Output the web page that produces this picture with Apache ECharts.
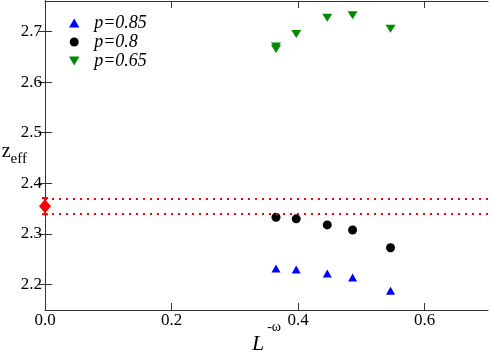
<!DOCTYPE html>
<html><head><meta charset="utf-8">
<script src="https://cdn.jsdelivr.net/npm/echarts@6/dist/echarts.min.js"></script>
<style>html,body{margin:0;padding:0;background:#fff}#c{width:491px;height:352px}</style>
</head><body><div id="c"></div>
<script>
const xVals = [0.365, 0.397, 0.446, 0.486, 0.546];
const yP085 = [2.232, 2.230, 2.222, 2.214, 2.188];
const yP080 = [2.333, 2.330, 2.318, 2.308, 2.273];
const xP065 = [0.365, 0.365, 0.397, 0.446, 0.486, 0.546];
const yP065 = [2.665, 2.670, 2.695, 2.727, 2.732, 2.705];
const estX = 0.0;
const estY = 2.355;
const estLo = 2.339;
const estHi = 2.371;
const xTicks = [0, 0.2, 0.4, 0.6];
const yTicks = [2.2, 2.3, 2.4, 2.5, 2.6, 2.7];
const names = ['p=0.85', 'p=0.8', 'p=0.65'];

const font = 'Liberation Serif';
const downTri = 'path://M0,0 L10,0 L5,8.66 Z';
const upTri = 'path://M5,0 L10,8.66 L0,8.66 Z';
const axisLine = {show: true, lineStyle: {color: '#333', width: 1}};
const tickRich = {t: {fontFamily: font, fontSize: 17, color: '#000'}};
function xAxisDef(pos, labels) {
  return {type: 'value', position: pos, min: 0, max: 0.7,
    axisLine: axisLine, splitLine: {show: false},
    axisTick: {show: true, inside: true, length: 7, customValues: xTicks, lineStyle: {color: '#333'}},
    axisLabel: {show: labels, customValues: xTicks, formatter: v => '{t|' + v.toFixed(1) + '}',
      rich: tickRich, fontFamily: font, fontSize: 17, color: '#000', margin: 2}
  };
}
function yAxisDef(pos, labels) {
  return {type: 'value', position: pos, min: 2.15, max: 2.76,
    axisLine: axisLine, splitLine: {show: false},
    axisTick: {show: true, inside: true, length: 7, customValues: yTicks, lineStyle: {color: '#333'}},
    axisLabel: {show: labels, customValues: yTicks, formatter: v => '{t|' + v.toFixed(1) + '}',
      rich: tickRich, fontFamily: font, fontSize: 17, color: '#000', margin: 3}
  };
}
const xa0 = xAxisDef('bottom', true);
xa0.name = '{l|L}{s|-ω}';
xa0.nameLocation = 'middle';
xa0.nameGap = 10;
xa0.nameMoveOverlap = false;
xa0.nameTextStyle = {verticalAlign: 'top', rich: {
  l: {fontFamily: font, fontStyle: 'italic', fontSize: 22, color: '#000', verticalAlign: 'bottom'},
  s: {fontFamily: font, fontSize: 14, color: '#000', verticalAlign: 'top', padding: [0, 0, 21, 3]}
}};
const ya0 = yAxisDef('left', true);
ya0.name = '{z|z}{s|eff}';
ya0.nameLocation = 'middle';
ya0.nameRotate = 0;
ya0.nameGap = 18;
ya0.nameMoveOverlap = false;
ya0.nameTextStyle = {rich: {
  z: {fontFamily: font, fontSize: 20, color: '#000', padding: [0, 0, 8, 0]},
  s: {fontFamily: font, fontSize: 15, color: '#000', padding: [8, 0, 0, 0]}
}};

const chart = echarts.init(document.getElementById('c'), null, {renderer: 'canvas'});
chart.setOption({
  animation: false,
  backgroundColor: '#fff',
  textStyle: {fontFamily: font},
  grid: {left: 45, right: 3, top: 1, bottom: 42, containLabel: false, outerBoundsMode: 'none'},
  xAxis: [xa0, xAxisDef('top', false)],
  yAxis: [ya0, yAxisDef('right', false)],
  legend: {
    orient: 'vertical', left: 64, top: 9, itemGap: 1, itemWidth: 14, itemHeight: 9,
    textStyle: {fontFamily: font, fontStyle: 'italic', fontSize: 18, color: '#000', padding: [0, 0, 0, 8]},
    data: [{name: names[0], icon: upTri}, {name: names[1], icon: 'circle'}, {name: names[2], icon: downTri}]
  },
  series: [
    {name: names[0], type: 'scatter', symbol: upTri, symbolSize: [9, 8],
     itemStyle: {color: '#0000ff', opacity: 1}, data: xVals.map((x, i) => [x, yP085[i]])},
    {name: names[1], type: 'scatter', symbol: 'circle', symbolSize: 9,
     itemStyle: {color: '#000', opacity: 1}, data: xVals.map((x, i) => [x, yP080[i]])},
    {name: names[2], type: 'scatter', symbol: downTri, symbolSize: [10, 8],
     itemStyle: {color: '#008a00', opacity: 1}, data: xP065.map((x, i) => [x, yP065[i]])},
    {type: 'line', silent: true, symbol: 'none', lineStyle: {opacity: 0}, data: [],
     markLine: {silent: true, symbol: 'none', animation: false, label: {show: false},
       lineStyle: {color: '#ff0000', width: 2, type: [2, 5]},
       data: [{yAxis: estHi}, {yAxis: estLo}]}},
    {type: 'custom', silent: true, clip: false, data: [[estX, estY, estLo, estHi]],
     renderItem: function (params, api) {
       const c = api.coord([api.value(0), api.value(1)]);
       const lo = api.coord([api.value(0), api.value(2)]);
       const hi = api.coord([api.value(0), api.value(3)]);
       const st = {stroke: '#ff0000', lineWidth: 2};
       return {type: 'group', children: [
         {type: 'line', shape: {x1: lo[0], y1: lo[1], x2: hi[0], y2: hi[1]}, style: st},
         {type: 'line', shape: {x1: lo[0] - 3, y1: lo[1], x2: lo[0] + 3, y2: lo[1]}, style: st},
         {type: 'line', shape: {x1: hi[0] - 3, y1: hi[1], x2: hi[0] + 3, y2: hi[1]}, style: st},
         {type: 'polygon', shape: {points: [[c[0], c[1] - 7], [c[0] + 6, c[1]], [c[0], c[1] + 7], [c[0] - 6, c[1]]]}, style: {fill: '#ff0000'}}
       ]};
     }}
  ]
});
</script></body></html>
